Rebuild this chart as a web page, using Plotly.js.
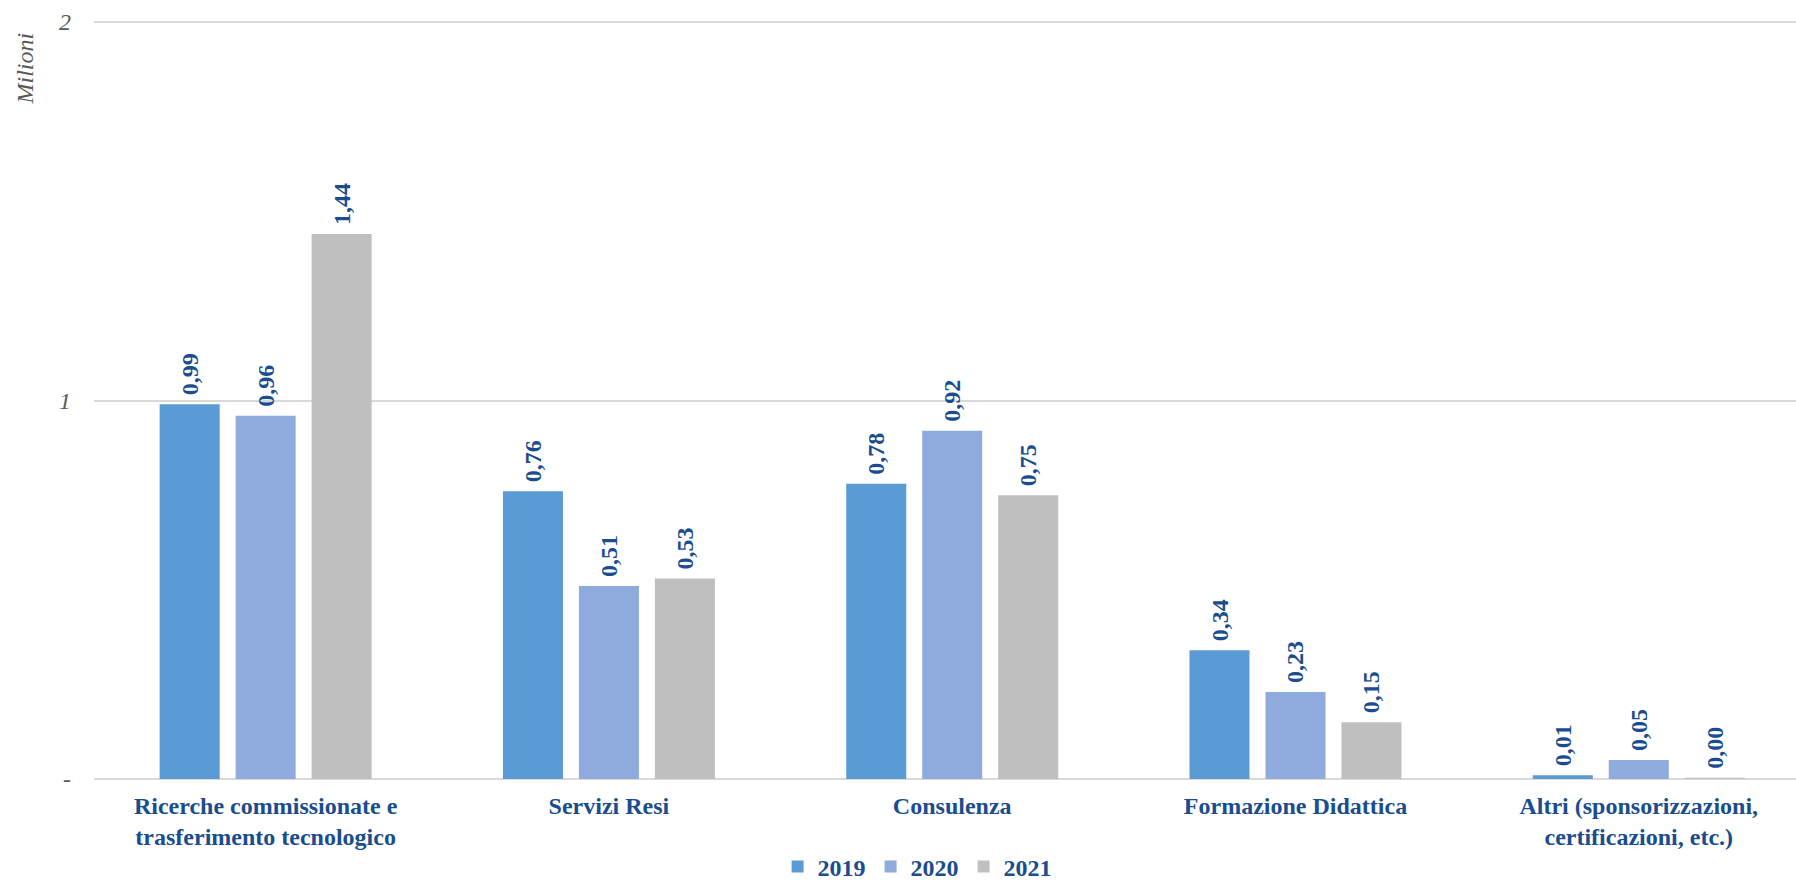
<!DOCTYPE html>
<html>
<head>
<meta charset="utf-8">
<script src="https://cdn.plot.ly/plotly-3.0.1.min.js"></script>
<style>html,body{margin:0;padding:0;background:#fff;overflow:hidden}#chart{width:1796px;height:881px}</style>
</head>
<body>
<div id="chart"></div>
<script>
const categories = [
  "Ricerche commissionate e<br>trasferimento tecnologico",
  "Servizi Resi",
  "Consulenza",
  "Formazione Didattica",
  "Altri (sponsorizzazioni,<br>certificazioni, etc.)"
];
const years = ["2019", "2020", "2021"];
const values2019 = [0.99, 0.76, 0.78, 0.34, 0.01];
const values2020 = [0.96, 0.51, 0.92, 0.23, 0.05];
const values2021 = [1.44, 0.53, 0.75, 0.15, 0.003];
const tickValues = [0, 1, 2];
const tickLabels = ["-", "1", "2"];

const colors = ["#5B9BD5", "#8FAADC", "#BFBFBF"];
const labelColor = "#1A4D8F";
const serif = "Liberation Serif, Times New Roman, serif";
const series = [values2019, values2020, values2021];

const traces = series.map((vals, i) => ({
  type: "bar",
  name: years[i],
  x: categories,
  y: vals,
  marker: {color: colors[i]},
  texttemplate: "\u00A0%{y:.2f}",
  textposition: "outside",
  textangle: -90,
  constraintext: "none",
  cliponaxis: false,
  textfont: {family: serif, size: 24, color: labelColor, weight: "bold"},
  hoverinfo: "skip"
}));

const layout = {
  width: 1796,
  height: 881,
  margin: {l: 94, r: 0, t: 19, b: 102},
  paper_bgcolor: "#fff",
  plot_bgcolor: "#fff",
  barmode: "group",
  bargap: 0.336,
  bargroupgap: 0.21,
  separators: ",.",
  font: {family: serif},
  xaxis: {
    type: "category",
    range: [-0.5, 4.458],
    tickfont: {family: serif, size: 24, color: labelColor, weight: "bold"},
    ticklabelstandoff: 10,
    showgrid: false,
    showline: false,
    ticks: "",
    automargin: false
  },
  yaxis: {
    range: [0, 2.008],
    tickvals: tickValues,
    ticktext: tickLabels,
    tickfont: {family: serif, size: 24, color: "#595959", style: "italic"},
    ticklabelstandoff: 22,
    showgrid: true,
    gridcolor: "#D9D9D9",
    gridwidth: 2,
    zeroline: true,
    zerolinecolor: "#D9D9D9",
    zerolinewidth: 2,
    showline: false,
    ticks: "",
    automargin: false
  },
  showlegend: true,
  legend: {
    orientation: "h",
    xref: "paper",
    x: 0.4836,
    xanchor: "center",
    yref: "container",
    y: 0.016,
    yanchor: "middle",
    font: {family: serif, size: 24, color: labelColor, weight: "bold"},
    itemwidth: 30,
    traceorder: "normal"
  },
  annotations: [{
    text: "Milioni",
    xref: "paper",
    yref: "paper",
    x: -0.0405,
    y: 0.935,
    xanchor: "center",
    yanchor: "middle",
    textangle: -90,
    showarrow: false,
    font: {family: serif, size: 24, color: "#595959", style: "italic"}
  }]
};

Plotly.newPlot("chart", traces, layout, {displayModeBar: false, staticPlot: true});
</script>
</body>
</html>
